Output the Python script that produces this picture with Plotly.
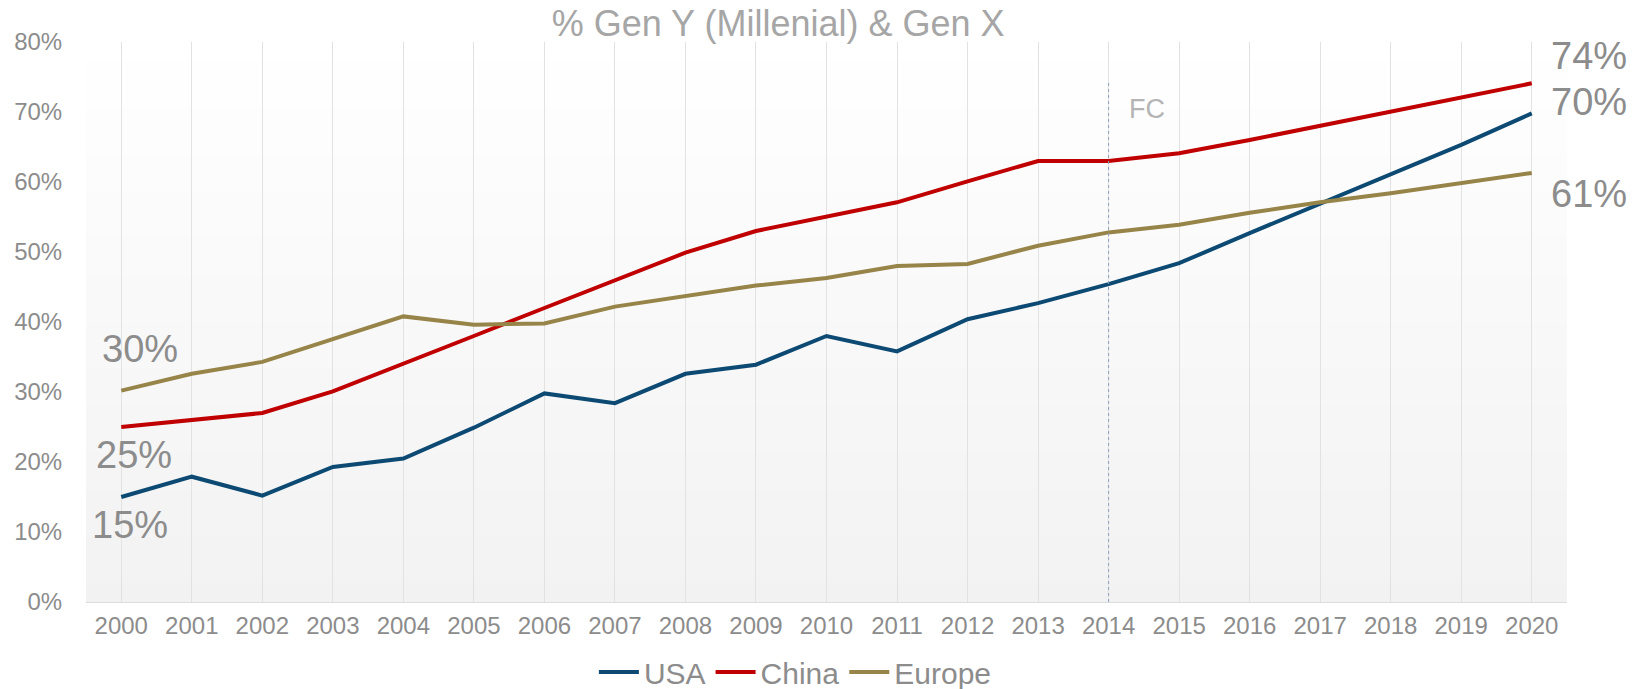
import plotly.graph_objects as go

years = list(range(2000, 2021))
usa = [15.0, 17.9, 15.2, 19.3, 20.5, 24.9, 29.8, 28.4, 32.6, 33.9, 38.0, 35.8, 40.4, 42.7, 45.4, 48.4, 52.7, 56.9, 61.2, 65.3, 69.8]
china = [25.0, 26.0, 27.0, 30.1, 34.0, 38.0, 42.0, 46.0, 49.9, 53.0, 55.0, 57.1, 60.1, 63.0, 63.0, 64.1, 66.0, 68.0, 70.1, 72.1, 74.1]
europe = [30.2, 32.6, 34.3, 37.5, 40.8, 39.6, 39.8, 42.2, 43.7, 45.2, 46.3, 48.0, 48.3, 50.9, 52.8, 53.9, 55.6, 57.1, 58.4, 59.8, 61.3]
y_ticks = [0, 10, 20, 30, 40, 50, 60, 70, 80]
y_tick_labels = ["0%", "10%", "20%", "30%", "40%", "50%", "60%", "70%", "80%"]
forecast_year = 2014

FONT = "Liberation Sans, Arial, sans-serif"
GRAY = "#8c8c8c"

fig = go.Figure()
fig.add_trace(go.Scatter(x=years, y=usa, mode="lines", name="USA",
                         line=dict(color="#0d4a73", width=4)))
fig.add_trace(go.Scatter(x=years, y=china, mode="lines", name="China",
                         line=dict(color="#c00000", width=4)))
fig.add_trace(go.Scatter(x=years, y=europe, mode="lines", name="Europe",
                         line=dict(color="#978449", width=4)))

# gradient background bands
shapes = []
n = 60
for i in range(n):
    f0 = i / n
    f1 = (i + 1) / n
    fm = (f0 + f1) / 2
    c = round(242 + (255 - 242) * fm)
    shapes.append(dict(type="rect", xref="x domain", yref="y domain",
                       x0=0, x1=1, y0=f0, y1=f1 + 0.002,
                       fillcolor=f"rgb({c},{c},{c})", line=dict(width=0),
                       layer="below"))
# forecast line
shapes.append(dict(type="line", xref="x", yref="y", x0=forecast_year, x1=forecast_year,
                   y0=0, y1=74.3, line=dict(color="#8ea2bb", width=1, dash="dot"),
                   layer="above"))

annotations = [
    dict(x=forecast_year, y=70.4, xref="x", yref="y", text="FC", showarrow=False,
         xanchor="left", yanchor="middle", xshift=18,
         font=dict(family=FONT, size=27, color="#b4b4b4")),
    dict(x=2020, y=china[-1], xref="x", yref="y", text="74%", showarrow=False,
         xanchor="left", yanchor="middle", xshift=17, yshift=27,
         font=dict(family=FONT, size=38, color=GRAY)),
    dict(x=2020, y=usa[-1], xref="x", yref="y", text="70%", showarrow=False,
         xanchor="left", yanchor="middle", xshift=17, yshift=11,
         font=dict(family=FONT, size=38, color=GRAY)),
    dict(x=2020, y=europe[-1], xref="x", yref="y", text="61%", showarrow=False,
         xanchor="left", yanchor="middle", xshift=17, yshift=-21,
         font=dict(family=FONT, size=38, color=GRAY)),
    dict(x=2000, y=europe[0], xref="x", yref="y", text="30%", showarrow=False,
         xanchor="left", yanchor="middle", xshift=-21, yshift=42,
         font=dict(family=FONT, size=38, color=GRAY)),
    dict(x=2000, y=china[0], xref="x", yref="y", text="25%", showarrow=False,
         xanchor="left", yanchor="middle", xshift=-27, yshift=-28,
         font=dict(family=FONT, size=38, color=GRAY)),
    dict(x=2000, y=usa[0], xref="x", yref="y", text="15%", showarrow=False,
         xanchor="left", yanchor="middle", xshift=-31, yshift=-28,
         font=dict(family=FONT, size=38, color=GRAY)),
]

fig.update_layout(
    width=1645, height=689,
    margin=dict(l=86, r=78, t=42, b=87, autoexpand=False),
    paper_bgcolor="white", plot_bgcolor="white",
    title=dict(text="% Gen Y (Millenial) & Gen X", xref="container", x=0.473,
               xanchor="center", yref="container", y=0.966, yanchor="middle",
               font=dict(family=FONT, size=36, color="#a6a6a6")),
    showlegend=True,
    legend=dict(orientation="h", xref="paper", x=0.479, xanchor="center",
                yref="paper", y=-0.125, yanchor="middle",
                font=dict(family=FONT, size=30, color=GRAY),
                bgcolor="rgba(0,0,0,0)", itemwidth=40, traceorder="normal"),
    shapes=shapes,
    annotations=annotations,
    xaxis=dict(range=[1999.5, 2020.5], tickmode="array", tickvals=years,
               ticktext=[str(y) for y in years],
               showgrid=True, gridcolor="#e2e2e2", gridwidth=1,
               showline=True, linecolor="#dcdcdc", linewidth=1,
               ticks="outside", ticklen=2, tickcolor="rgba(0,0,0,0)",
               zeroline=False, fixedrange=True, automargin=False,
               tickfont=dict(family=FONT, size=24, color=GRAY)),
    yaxis=dict(range=[0, 80], tickmode="array", tickvals=y_ticks, ticktext=y_tick_labels,
               showgrid=False, zeroline=False, showline=False,
               ticks="outside", ticklen=18, tickcolor="rgba(0,0,0,0)",
               fixedrange=True, automargin=False,
               tickfont=dict(family=FONT, size=24, color=GRAY)),
)

fig.write_html("out.html", config={"displayModeBar": False, "staticPlot": True},
               post_script="document.body.style.margin='0px';document.body.style.overflow='hidden';")
